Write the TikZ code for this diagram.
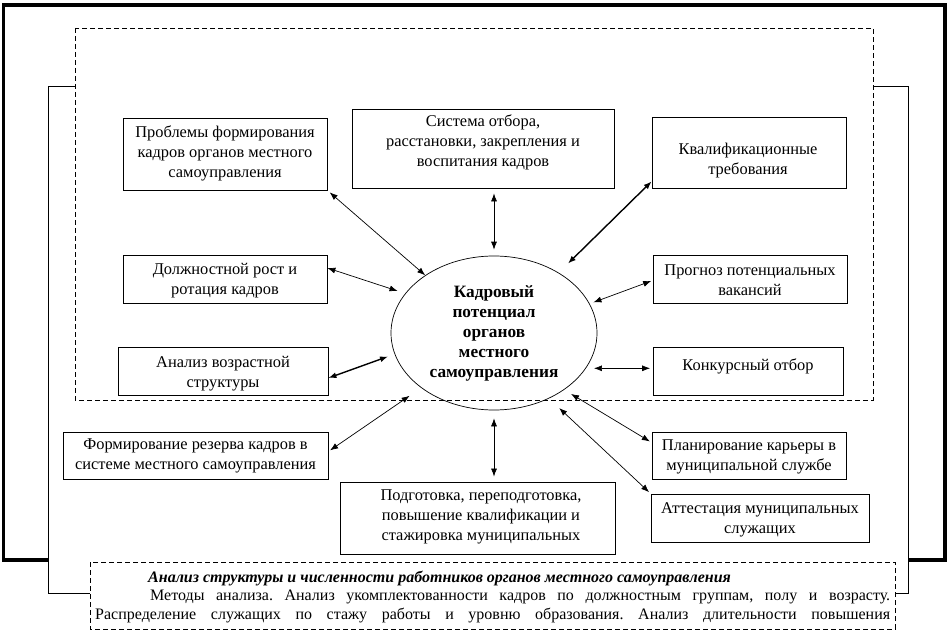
\documentclass[tikz,border=0pt]{standalone}
\usepackage{fontspec}
\setmainfont{Liberation Serif}
\usetikzlibrary{arrows.meta,shapes.geometric,calc}
\frenchspacing
\begin{document}
\begin{tikzpicture}[x=1pt,y=-1pt,
  box/.style={draw, line width=0.8pt, inner sep=0pt},
  txt/.style={align=center, inner sep=0pt, font=\fontsize{16.4}{20}\selectfont},
  conn/.style={{Latex[length=8pt,width=6pt]}-{Latex[length=8pt,width=6pt]}, line width=0.7pt},
  dsh/.style={dash pattern=on 5pt off 3pt, line width=0.8pt, fill=white}]
\useasboundingbox (0,0) rectangle (950,631);
% frames
\draw[line width=3.5pt] (3.5,5) rectangle (945,560);
\draw[line width=0.9pt, fill=white] (48,86) rectangle (908,593);
\draw[dsh] (75,28) rectangle (873,400);
\draw[dsh] (90,562) rectangle (895,629);
% boxes
\node[box, minimum width=204pt, minimum height=72pt] (b1) at (225,154) {};
\node[box, minimum width=262pt, minimum height=79pt] (b2) at (483,148.5) {};
\node[box, minimum width=194pt, minimum height=71pt] (b3) at (749,152.5) {};
\node[box, minimum width=204pt, minimum height=48pt] (b4) at (225,279) {};
\node[box, minimum width=194pt, minimum height=48pt] (b5) at (750,279) {};
\node[box, minimum width=210pt, minimum height=48pt] (b6) at (223,371) {};
\node[box, minimum width=190pt, minimum height=48pt] (b7) at (748,371) {};
\node[box, minimum width=265pt, minimum height=47pt] (b8) at (195.5,455.5) {};
\node[box, minimum width=275pt, minimum height=72pt] (b9) at (477.5,518) {};
\node[box, minimum width=194pt, minimum height=47pt] (b10) at (749,455.5) {};
\node[box, minimum width=218pt, minimum height=48pt] (b11) at (760,518) {};
% texts
\node[txt] (t1) at (225,153.3) {Проблемы формирования\\кадров органов местного\\самоуправления};
\node[txt] (t2) at (483,142.5) {Система отбора,\\расстановки, закрепления и\\воспитания кадров};
\node[txt] (t3) at (748,160.3) {Квалификационные\\требования};
\node[txt] (t4) at (225,281) {Должностной рост и\\ротация кадров};
\node[txt] (t5) at (750,280.5) {Прогноз потенциальных\\вакансий};
\node[txt] (t6) at (223,374) {Анализ возрастной\\структуры};
\node[txt] (t7) at (748,366) {Конкурсный отбор};
\node[txt] (t8) at (195.5,456) {Формирование резерва кадров в\\системе местного самоуправления};
\node[txt] (t9) at (481,516.7) {Подготовка, переподготовка,\\повышение квалификации и\\стажировка муниципальных};
\node[txt] (t10) at (749,456.5) {Планирование карьеры в\\муниципальной службе};
\node[txt] (t11) at (760,519.5) {Аттестация муниципальных\\служащих};
% centre
\node[draw, ellipse, line width=0.7pt, minimum width=206pt, minimum height=154pt, inner sep=0pt] (ell) at (494,333) {};
\node[align=center, inner sep=0pt, font=\fontsize{17.3}{20}\selectfont\bfseries] (tc) at (494,333) {Кадровый\\потенциал\\органов\\местного\\самоуправления};
% connectors
\draw[conn, shorten <=3pt] (b1.south east) -- (ell.140);
\draw[conn, shorten <=5pt, shorten >=6pt] (b2.south -| ell.north) -- (ell.north);
\draw[conn, line width=1.4pt, shorten >=13pt] ([yshift=7pt]b3.south west) -- (ell.43);
\draw[conn, shorten >=8pt] ([yshift=11pt]b4.east) -- (ell.156);
\draw[conn, shorten <=1.5pt, shorten >=4pt] ([yshift=-1.5pt]b5.west) -- (ell.17);
\draw[conn, line width=1.4pt, shorten >=7pt] ([yshift=-7pt]b6.east) -- (ell.192);
\draw[conn, shorten <=8pt, shorten >=2.5pt] (ell.-21) -- (b7.west |- ell.-21);
\draw[conn, shorten <=2pt, shorten >=14pt] ([yshift=4pt]b8.east) -- (ell.217);
\draw[conn, shorten <=8pt, shorten >=5pt] (ell.south) -- (ell.south |- b9.north);
\draw[conn, shorten <=2pt, shorten >=8pt] ([yshift=13pt]b10.west) -- (ell.-39);
\draw[conn, shorten <=2pt, shorten >=14pt] (b11.north west) -- (ell.-50);
% bottom text
\node[anchor=west, inner sep=0pt, font=\fontsize{16}{19}\selectfont\bfseries\itshape] (hd) at (148,578) {Анализ структуры и численности работников органов местного самоуправления};
\node[anchor=north west, inner sep=0pt, text width=795pt, align=justify, font=\fontsize{16}{18.5}\selectfont] (para) at (95,590) {\frenchspacing\hyphenpenalty=10000\hspace*{55pt}Методы анализа. Анализ укомплектованности кадров по должностным группам, полу и возрасту.\linebreak Распределение служащих по стажу работы и уровню образования. Анализ длительности повышения\parfillskip=0pt\par};
\end{tikzpicture}
\end{document}
